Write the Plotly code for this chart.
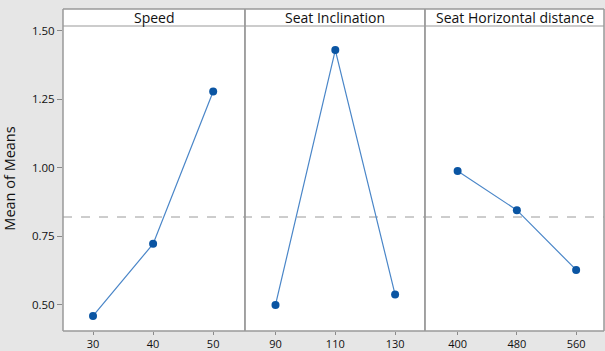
import plotly.graph_objects as go

# Data
speed_levels = ["30", "40", "50"]
speed_means = [0.46, 0.723, 1.279]
incl_levels = ["90", "110", "130"]
incl_means = [0.50, 1.43, 0.538]
horiz_levels = ["400", "480", "560"]
horiz_means = [0.989, 0.846, 0.628]
panel_titles = ["Speed", "Seat Inclination", "Seat Horizontal distance"]
grand_mean = 0.821
y_ticks = [0.50, 0.75, 1.00, 1.25, 1.50]
y_ticklabels = ["0.50", "0.75", "1.00", "1.25", "1.50"]

W, H = 605, 351
L, R, T, B = 63, 1, 9, 20
pw = W - L - R
ph = H - T - B
header_h = 17
ytop = (ph - header_h) / ph
edges = [63, 245, 425, 605 - R]
doms = [((edges[i] - L) / pw, (edges[i + 1] - L) / pw) for i in range(3)]
ranges = [[-0.5, 2.53], [-0.51, 2.5], [-0.55, 2.47]]

font = "Open Sans, DejaVu Sans, sans-serif"
line_col = "#4a86c8"
mark_col = "#0a55a3"

fig = go.Figure()
series = [(speed_levels, speed_means), (incl_levels, incl_means), (horiz_levels, horiz_means)]
for i, (cats, vals) in enumerate(series):
    xa = "x" if i == 0 else f"x{i+1}"
    fig.add_trace(go.Scatter(
        x=cats, y=vals, xaxis=xa, yaxis="y", mode="lines+markers",
        line=dict(color=line_col, width=1.2),
        marker=dict(color=mark_col, size=8, symbol="circle"),
        showlegend=False, cliponaxis=False))

layout = dict(
    width=W, height=H,
    margin=dict(l=L, r=R, t=T, b=B, pad=0, autoexpand=False),
    paper_bgcolor="#e6e6e6", plot_bgcolor="white",
    font=dict(family=font, color="#222222"),
    yaxis=dict(domain=[0, ytop], range=[0.405, 1.518], tickvals=y_ticks,
               ticktext=y_ticklabels, ticks="outside", ticklen=5, tickcolor="#8a8a8a",
               showgrid=False, zeroline=False, showline=False, automargin=False,
               tickfont=dict(size=11.5, color="#111111"),
               title=dict(text="Mean of Means", font=dict(size=14.5, color="#111111"), standoff=14)),
)
for i in range(3):
    key = "xaxis" if i == 0 else f"xaxis{i+1}"
    cats = series[i][0]
    layout[key] = dict(domain=list(doms[i]), anchor="y", type="category",
                       categoryorder="array", categoryarray=cats, automargin=False,
                       range=ranges[i], ticks="outside", ticklen=3, tickcolor="#8a8a8a",
                       showgrid=False, zeroline=False, showline=False,
                       tickfont=dict(size=11, color="#111111"))
fig.update_layout(**layout)

shapes = []
for i in range(3):
    x0, x1 = doms[i]
    shapes.append(dict(type="rect", xref="paper", yref="paper", x0=x0, x1=x1, y0=0, y1=1,
                       fillcolor="white", line=dict(color="#999999", width=1), layer="below"))
    shapes.append(dict(type="line", xref="paper", yref="paper", x0=x0, x1=x1, y0=ytop, y1=ytop,
                       line=dict(color="#999999", width=1), layer="above"))
    shapes.append(dict(type="rect", xref="paper", yref="paper", x0=x0, x1=x1, y0=0, y1=1,
                       fillcolor="rgba(0,0,0,0)", line=dict(color="#999999", width=1), layer="above"))
shapes.append(dict(type="line", xref="paper", yref="y", x0=0, x1=1, y0=grand_mean, y1=grand_mean,
                   line=dict(color="#9a9a9a", width=1, dash="dash"), layer="below"))
fig.update_layout(shapes=shapes)

annotations = []
for i in range(3):
    x0, x1 = doms[i]
    annotations.append(dict(text=panel_titles[i], xref="paper", yref="paper",
                            x=(x0 + x1) / 2, y=(1 + ytop) / 2, showarrow=False,
                            xanchor="center", yanchor="middle",
                            font=dict(size=14, color="#111111", family=font)))
fig.update_layout(annotations=annotations)

fig.write_html("out.html", config={"displayModeBar": False},
               post_script="document.body.style.margin='0';document.body.style.padding='0';")
